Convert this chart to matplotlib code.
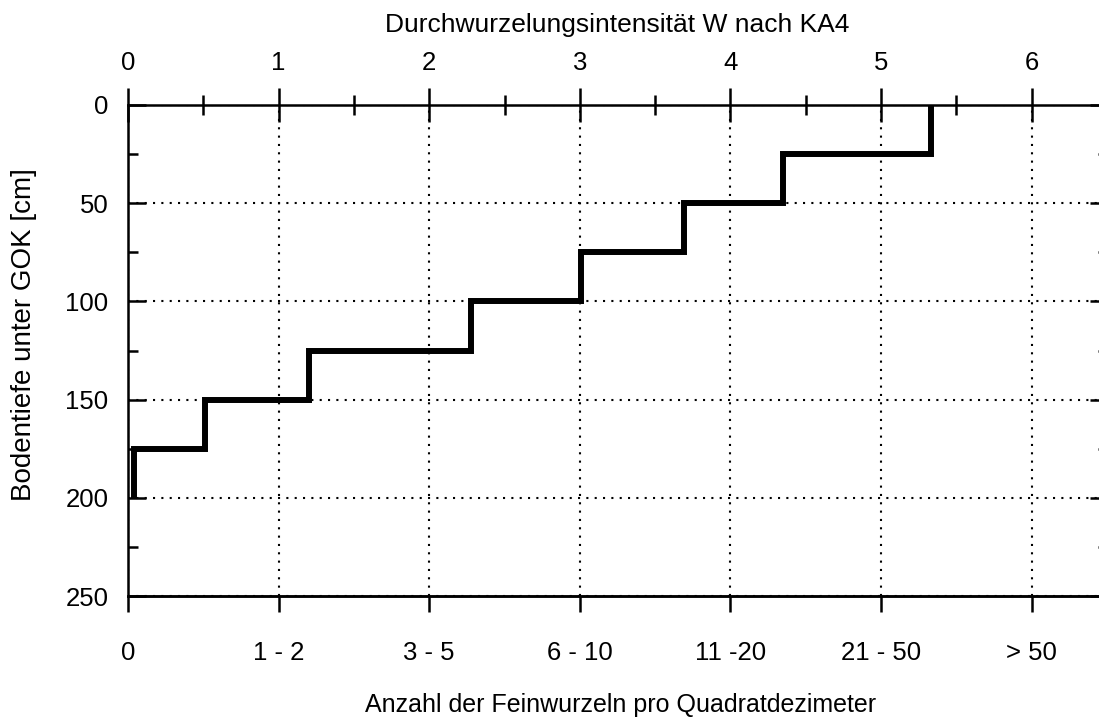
import numpy as np
import matplotlib
matplotlib.use("Agg")
import matplotlib.pyplot as plt
from matplotlib.ticker import MultipleLocator

plt.rcParams["font.family"] = ["Liberation Sans", "DejaVu Sans"]

# Bodentiefe (Horizontgrenzen) und Durchwurzelungsintensitaet je Schicht
depth_edges = [0, 25, 50, 75, 100, 125, 150, 175, 200]
intensity = [5.33, 4.35, 3.69, 3.01, 2.28, 1.20, 0.51, 0.04]

top_ticks = [0, 1, 2, 3, 4, 5, 6]
bottom_labels = ["0", "1 - 2", "3 - 5", "6 - 10", "11 -20", "21 - 50", "> 50"]
depth_ticks = [0, 50, 100, 150, 200, 250]

W, H = 1099, 720
fig = plt.figure(figsize=(W / 100, H / 100), dpi=100)

# Achse: links 128px, rechts knapp ausserhalb des Bildes
left_px, right_px, top_px, bot_px = 128, 1108, 105, 596
ax = fig.add_axes([left_px / W, 1 - bot_px / H,
                   (right_px - left_px) / W, (bot_px - top_px) / H])

ax.set_xlim(0, (right_px - left_px) / 150.6)
ax.set_ylim(250, 0)

ax.stairs(intensity, depth_edges, orientation="horizontal", baseline=None,
          color="black", linewidth=4.3, zorder=3)

for s in ax.spines.values():
    s.set_linewidth(1.8)
ax.spines["right"].set_visible(False)

# obere Achse: Intensitaet W
ax.xaxis.tick_top()
ax.set_xticks(top_ticks)
ax.xaxis.set_minor_locator(MultipleLocator(0.5))
ax.tick_params(axis="x", which="major", direction="inout", length=25, width=1.8,
               labelsize=18.5, pad=9, top=True, bottom=False)
ax.tick_params(axis="x", which="minor", direction="inout", length=14, width=1.8,
               top=True, bottom=False)

# linke Achse: Tiefe
ax.set_yticks(depth_ticks)
ax.yaxis.set_minor_locator(MultipleLocator(25))
ax.tick_params(axis="y", which="major", direction="in", length=13, width=1.8,
               labelsize=18.5, pad=14, right=True)
ax.tick_params(axis="y", which="minor", direction="in", length=7, width=1.8,
               right=True)

# untere Achse: Anzahl Feinwurzeln
sec = ax.secondary_xaxis("bottom")
sec.set_xticks(top_ticks, bottom_labels)
sec.spines["bottom"].set_linewidth(1.8)
sec.tick_params(axis="x", direction="out", length=11.5, width=1.8,
                labelsize=18.5, pad=21)

ax.grid(True, which="major", color="black", linewidth=1.5,
        linestyle=(0, (1, 3)))

fig.text(617 / W, 1 - 25 / H, "Durchwurzelungsintensität W nach KA4",
         ha="center", va="center", fontsize=19)
fig.text(621 / W, 1 - 705 / H, "Anzahl der Feinwurzeln pro Quadratdezimeter",
         ha="center", va="center", fontsize=18)
fig.text(24 / W, 1 - 335 / H, "Bodentiefe unter GOK [cm]",
         ha="center", va="center", rotation=90, fontsize=20)

fig.savefig("out.png", dpi=100)
